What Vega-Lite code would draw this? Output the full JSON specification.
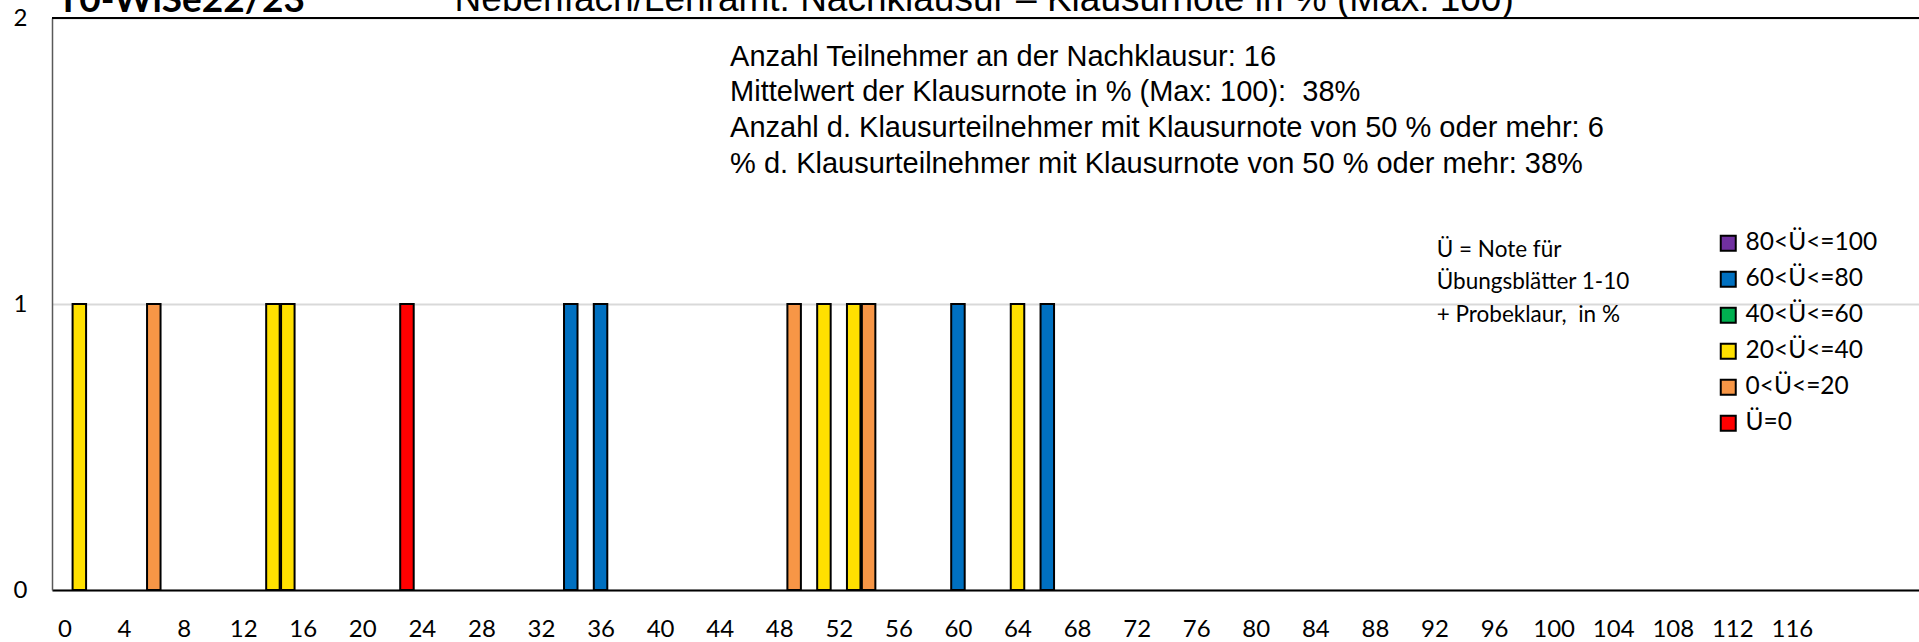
{
  "$schema": "https://vega.github.io/schema/vega-lite/v6.json",
  "width": 1867,
  "height": 572,
  "autosize": {"type": "none"},
  "padding": {"left": 52, "top": 18, "right": 0, "bottom": 52},
  "background": "white",
  "config": {"view": {"stroke": null}},
  "layer": [
    {
      "data": {"values": [
        {"note": 1, "anzahl": 1, "gruppe": "20<Ü<=40"},
        {"note": 6, "anzahl": 1, "gruppe": "0<Ü<=20"},
        {"note": 14, "anzahl": 1, "gruppe": "20<Ü<=40"},
        {"note": 15, "anzahl": 1, "gruppe": "20<Ü<=40"},
        {"note": 23, "anzahl": 1, "gruppe": "Ü=0"},
        {"note": 34, "anzahl": 1, "gruppe": "60<Ü<=80"},
        {"note": 36, "anzahl": 1, "gruppe": "60<Ü<=80"},
        {"note": 49, "anzahl": 1, "gruppe": "0<Ü<=20"},
        {"note": 51, "anzahl": 1, "gruppe": "20<Ü<=40"},
        {"note": 53, "anzahl": 1, "gruppe": "20<Ü<=40"},
        {"note": 54, "anzahl": 1, "gruppe": "0<Ü<=20"},
        {"note": 60, "anzahl": 1, "gruppe": "60<Ü<=80"},
        {"note": 64, "anzahl": 1, "gruppe": "20<Ü<=40"},
        {"note": 66, "anzahl": 1, "gruppe": "60<Ü<=80"}
      ]},
      "mark": {"type": "bar", "size": 13.5, "stroke": "black", "strokeWidth": 2, "opacity": 1},
      "encoding": {
        "x": {
          "field": "note", "type": "quantitative",
          "scale": {"domain": [-0.5, 124.2], "nice": false, "zero": false},
          "axis": {
            "values": [0,4,8,12,16,20,24,28,32,36,40,44,48,52,56,60,64,68,72,76,80,84,88,92,96,100,104,108,112,116],
            "title": null, "grid": false, "ticks": false, "tickSize": 0,
            "labelFont": "Lato", "labelFontSize": 24, "labelColor": "black",
            "labelBaseline": "middle", "labelPadding": 39, "labelFlush": false, "labelOverlap": false,
            "domainColor": "black", "domainWidth": 2
          }
        },
        "y": {
          "field": "anzahl", "type": "quantitative",
          "scale": {"domain": [0, 2], "nice": false},
          "axis": {
            "values": [0, 1, 2], "labelExpr": "toString(datum.value)", "title": null,
            "ticks": false, "tickSize": 0, "labelOverlap": false, "labelFlush": false,
            "grid": true, "gridColor": "#d9d9d9", "gridWidth": 2,
            "labelFont": "Lato", "labelFontSize": 24, "labelColor": "black",
            "labelPadding": 25, "labelBaseline": "middle",
            "domainColor": "#595959", "domainWidth": 1.5
          }
        },
        "color": {
          "field": "gruppe", "type": "nominal",
          "scale": {
            "domain": ["80<Ü<=100", "60<Ü<=80", "40<Ü<=60", "20<Ü<=40", "0<Ü<=20", "Ü=0"],
            "range": ["#7030A0", "#0070C0", "#00B050", "#FFE000", "#F79646", "#FF0000"]
          },
          "legend": {
            "orient": "none", "legendX": 1664, "legendY": 213, "title": null,
            "symbolType": "square", "symbolSize": 225, "symbolStrokeColor": "black",
            "symbolStrokeWidth": 2, "symbolOpacity": 1,
            "labelFont": "Lato", "labelFontSize": 24.5, "labelColor": "black",
            "rowPadding": 11, "labelOffset": 5, "padding": 0
          }
        }
      }
    },
    {
      "data": {"values": [{}]},
      "mark": {"type": "rule", "color": "black", "strokeWidth": 2},
      "encoding": {"y": {"datum": 2}}
    },
    {
      "data": {"values": [{}]},
      "mark": {
        "type": "text", "align": "left", "baseline": "middle",
        "font": "Liberation Sans", "fontSize": 29, "lineHeight": 35.8, "color": "black",
        "text": [
          "Anzahl Teilnehmer an der Nachklausur: 16",
          "Mittelwert der Klausurnote in % (Max: 100):\u00a0 38%",
          "Anzahl d. Klausurteilnehmer mit Klausurnote von 50 % oder mehr: 6",
          "% d. Klausurteilnehmer mit Klausurnote von 50 % oder mehr: 38%"
        ]
      },
      "encoding": {"x": {"datum": 44.7}, "y": {"datum": 1.865}}
    },
    {
      "data": {"values": [{}]},
      "mark": {
        "type": "text", "align": "left", "baseline": "middle",
        "font": "Lato", "fontSize": 22.5, "lineHeight": 32.5, "color": "black",
        "text": ["Ü = Note für", "Übungsblätter 1-10", "+ Probeklaur,\u00a0 in %"]
      },
      "encoding": {"x": {"datum": 92.15}, "y": {"datum": 1.19}}
    },
    {
      "data": {"values": [{}]},
      "mark": {
        "type": "text", "align": "left", "baseline": "alphabetic",
        "font": "Lato", "fontWeight": "bold", "fontSize": 37, "color": "black",
        "text": "T0-WiSe22/23"
      },
      "encoding": {"x": {"datum": -0.5}, "y": {"datum": 2.021}}
    },
    {
      "data": {"values": [{}]},
      "mark": {
        "type": "text", "align": "left", "baseline": "alphabetic",
        "font": "Liberation Sans", "fontSize": 37, "color": "black",
        "text": "Nebenfach/Lehramt: Nachklausur – Klausurnote in % (Max: 100)"
      },
      "encoding": {"x": {"datum": 26.2}, "y": {"datum": 2.0245}}
    }
  ]
}
